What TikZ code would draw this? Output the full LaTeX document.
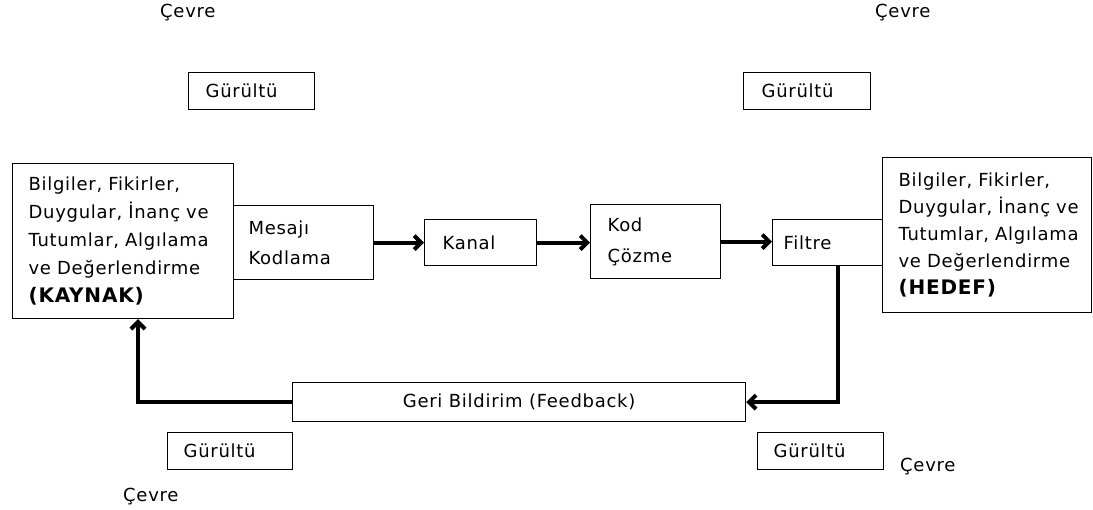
\documentclass[tikz,border=0pt]{standalone}
\usepackage{fontspec}
\setmainfont{DejaVu Sans}[LetterSpace=4]
\usetikzlibrary{arrows.meta}
\begin{document}
\begin{tikzpicture}[x=1pt,y=-1pt,
  every node/.style={font=\fontsize{18}{28}\selectfont},
  box/.style={draw, line width=1.2pt, anchor=north west, align=left, inner ysep=0pt,
    execute at begin node={\hyphenpenalty=10000 \exhyphenpenalty=10000}},
  lbl/.style={anchor=base west, inner sep=0pt},
  flow/.style={line width=4pt, line join=miter, -{Straight Barb[length=7pt,width=14pt]}},
  big/.style={font=\fontsize{20}{28}\selectfont\bfseries}
]
\useasboundingbox (0,0) rectangle (1093,510);

% environment labels
\node[lbl] (cv1) at (160,18) {Çevre};
\node[lbl] (cv2) at (875,18) {Çevre};
\node[lbl] (cv3) at (900,472) {Çevre};
\node[lbl] (cv4) at (123,502) {Çevre};

% noise boxes
\node[box, text width=92pt, inner xsep=17pt, minimum height=37pt] (g1) at (188,72) {Gürültü};
\node[box, text width=91pt, inner xsep=18pt, minimum height=37pt] (g2) at (743,72) {Gürültü};
\node[box, text width=93pt, inner xsep=16pt, minimum height=37pt] (g3) at (167,432) {Gürültü};
\node[box, text width=94pt, inner xsep=16pt, minimum height=37pt] (g4) at (757,432) {Gürültü};

% source
\node[box, text width=189pt, inner xsep=16pt, minimum height=155pt] (kay) at (12,163)
  {Bilgiler,~Fikirler,\\ Duygular,~İnanç~ve\\ Tutumlar,~Algılama\\ ve~Değerlendirme\\ {\fontsize{20}{28}\selectfont\bfseries (KAYNAK)}};

% message encoding, channel, decoding, filter
\node[box, text width=110pt, inner xsep=15pt, minimum height=74pt, font=\fontsize{18}{30}\selectfont] (mk) at (233,205)
  {Mesajı\\ Kodlama};
\node[box, text width=76pt, inner xsep=18pt, minimum height=46pt] (kan) at (424,219) {Kanal};
\node[box, text width=96pt, inner xsep=17pt, minimum height=74pt, font=\fontsize{18}{31}\selectfont] (kod) at (590,204)
  {Kod\\ Çözme};
\node[box, text width=88pt, inner xsep=11pt, minimum height=46pt] (fil) at (772,219) {Filtre};

% target
\node[box, text width=177pt, inner xsep=16pt, minimum height=155pt, font=\fontsize{18}{27}\selectfont] (hed) at (882,157)
  {Bilgiler,~Fikirler,\\ Duygular,~İnanç~ve\\ Tutumlar,~Algılama\\ ve~Değerlendirme\\ {\fontsize{20}{28}\selectfont\bfseries (HEDEF)}};

% feedback
\node[draw, line width=1.2pt, anchor=north west, minimum width=453pt, minimum height=39pt] (fb) at (292,382)
  {Geri Bildirim (Feedback)};

% forward flow
\draw[flow] (mk.east) -- (mk.east -| kan.west);
\draw[flow] (kan.east) -- (kan.east -| kod.west);
\draw[flow] (kod.east) -- (kod.east -| fil.west);

% feedback loop
\coordinate (fbturn) at (838,403);
\coordinate (fbleft) at (138,403);
\draw[flow] (fil.south -| fbturn) |- (fb.east);
\draw[flow] (fb.west) -| (kay.south -| fbleft);
\end{tikzpicture}
\end{document}
